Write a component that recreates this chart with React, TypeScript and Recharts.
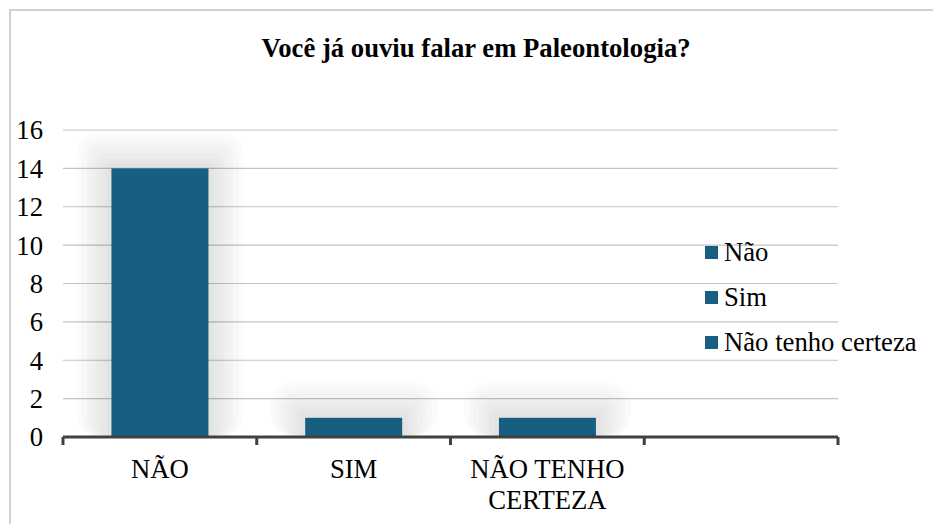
import React from "react";
import { BarChart, Bar, XAxis, YAxis, CartesianGrid, Legend } from "recharts";

const FONT = "Liberation Serif";
const FONT_SIZE = 26.7;
const BAR_COLOR = "#185E80";
const AXIS_COLOR = "#404040";

const title = "Você já ouviu falar em Paleontologia?";
const categories = ["NÃO", "SIM", "NÃO TENHO CERTEZA", ""];
const values: (number | null)[] = [14, 1, 1, null];
const yTicks = [0, 2, 4, 6, 8, 10, 12, 14, 16];
const legendLabels = ["Não", "Sim", "Não tenho certeza"];
const haloSteps = [35, 30, 25, 20, 15, 10, 5];

const data = categories.map((c, i) => ({ category: c, value: values[i] }));

function wrapWords(s: string, maxChars: number): string[] {
  const words = String(s).split(" ").filter((w) => w.length > 0);
  const lines: string[] = [];
  let cur = "";
  for (const w of words) {
    const next = cur ? cur + " " + w : w;
    if (next.length > maxChars && cur) {
      lines.push(cur);
      cur = w;
    } else {
      cur = next;
    }
  }
  if (cur) lines.push(cur);
  return lines;
}

const CategoryTick = (props: any) => {
  const { x, y, payload, index, visibleTicksCount, width } = props;
  const half = payload && payload.offset ? payload.offset : width / visibleTicksCount / 2;
  const lines = wrapWords(payload.value, 10);
  const isLast = index === visibleTicksCount - 1;
  return (
    <g>
      <line x1={x - half} x2={x - half} y1={y} y2={y + 8} stroke={AXIS_COLOR} strokeWidth={3} />
      {isLast && <line x1={x + half} x2={x + half} y1={y} y2={y + 8} stroke={AXIS_COLOR} strokeWidth={3} />}
      <text x={x} y={y + 41} textAnchor="middle" fontSize={FONT_SIZE} fontFamily={FONT} fill="#000">
        {lines.map((l, i) => (
          <tspan key={i} x={x} dy={i === 0 ? 0 : 31}>
            {l}
          </tspan>
        ))}
      </text>
    </g>
  );
};

const renderGlowBar = (props: any) => {
  const { x, y, width, height } = props;
  if (!height || height <= 0) return <g />;
  const bottom = y + height;
  return (
    <g>
      {haloSteps.map((d) => (
        <rect
          key={d}
          x={x - d}
          y={y - d}
          width={width + 2 * d}
          height={bottom - (y - d) - 1}
          rx={d * 0.6}
          fill="#000"
          fillOpacity={0.016}
        />
      ))}
      <rect x={x} y={y} width={width} height={height} fill={BAR_COLOR} />
    </g>
  );
};

const LegendContent = () => (
  <div style={{ fontFamily: FONT, fontSize: FONT_SIZE, color: "#000" }}>
    {legendLabels.map((l) => (
      <div key={l} style={{ display: "flex", alignItems: "center", height: 45, whiteSpace: "nowrap" }}>
        <span style={{ display: "inline-block", width: 13, height: 13, background: BAR_COLOR, marginRight: 6 }} />
        <span>{l}</span>
      </div>
    ))}
  </div>
);

export default function App() {
  return (
    <div style={{ position: "absolute", left: 0, top: 0, width: 933, height: 524, overflow: "hidden", background: "#fff" }}>
      <div style={{ position: "absolute", left: 9, top: 9, width: 1000, height: 1000, border: "2px solid #d0d0d0" }} />
      <div
        style={{
          position: "absolute",
          left: 0,
          top: 33,
          width: 952,
          textAlign: "center",
          fontFamily: FONT,
          fontWeight: "bold",
          fontSize: FONT_SIZE,
          lineHeight: "30px",
          color: "#000",
        }}
      >
        {title}
      </div>
      <div style={{ position: "absolute", left: 0, top: 0 }}>
        <BarChart
          width={933}
          height={524}
          data={data}
          margin={{ top: 130, right: 95, bottom: 7, left: 10 }}
          barCategoryGap="25%"
        >
          <CartesianGrid vertical={false} stroke="#c4c4c4" strokeWidth={1.2} />
          <XAxis
            dataKey="category"
            interval={0}
            height={80}
            axisLine={{ stroke: AXIS_COLOR, strokeWidth: 3 }}
            tickLine={false}
            tickSize={0}
            tickMargin={0}
            tick={<CategoryTick />}
          />
          <YAxis
            width={53}
            domain={[0, 16]}
            ticks={yTicks}
            interval={0}
            axisLine={false}
            tickLine={false}
            tickMargin={14}
            tick={{ fontSize: FONT_SIZE, fontFamily: FONT, fill: "#000" }}
          />
          <Legend
            layout="vertical"
            align="center"
            verticalAlign="middle"
            content={<LegendContent />}
            wrapperStyle={{ left: 705, top: 230, width: 228 }}
          />
          <Bar dataKey="value" fill={BAR_COLOR} shape={renderGlowBar} isAnimationActive={false} />
        </BarChart>
      </div>
    </div>
  );
}
